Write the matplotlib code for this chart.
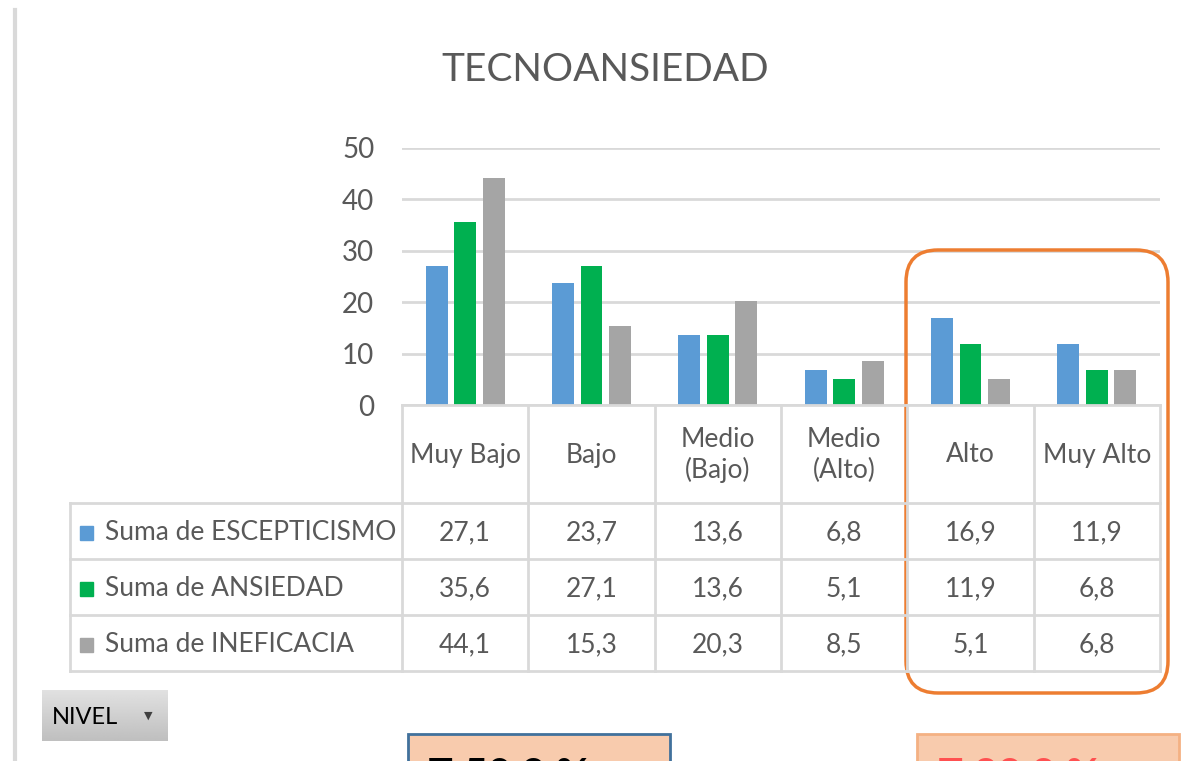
import numpy as np
import matplotlib
matplotlib.use("Agg")
import matplotlib.pyplot as plt
from matplotlib.patches import FancyBboxPatch, Rectangle

# data
categorias = ["Muy Bajo", "Bajo", "Medio\n(Bajo)", "Medio\n(Alto)", "Alto", "Muy Alto"]
series = ["Suma de ESCEPTICISMO", "Suma de ANSIEDAD", "Suma de INEFICACIA"]
escepticismo = [27.1, 23.7, 13.6, 6.8, 16.9, 11.9]
ansiedad = [35.6, 27.1, 13.6, 5.1, 11.9, 6.8]
ineficacia = [44.1, 15.3, 20.3, 8.5, 5.1, 6.8]
y_ticks = [0, 10, 20, 30, 40, 50]
titulo = "TECNOANSIEDAD"
boton = "NIVEL"
resumen_izq = "\u03A3 50,8 %"
resumen_der = "\u03A3 28,8 %"

valores = [escepticismo, ansiedad, ineficacia]
colores = ["#5B9BD5", "#00B050", "#A5A5A5"]
texto = "#595959"
borde = "#D9D9D9"

plt.rcParams["font.family"] = ["Lato", "DejaVu Sans"]

W, H = 1181, 761
fig = plt.figure(figsize=(W / 100, H / 100), dpi=100)

# bar chart area (pixel geometry of the plot region)
x0, x1, y_top, y_base = 402, 1160, 148, 405
ax = fig.add_axes([x0 / W, 1 - y_base / H, (x1 - x0) / W, (y_base - y_top) / H])
n = len(categorias)
x = np.arange(n)
bw, step = 0.174, 0.225
for i, (vals, col) in enumerate(zip(valores, colores)):
    ax.bar(x + (i - 1) * step, vals, width=bw, color=col, zorder=3)
ax.set_xlim(-0.5, n - 0.5)
ax.set_ylim(0, 50)
ax.set_yticks(y_ticks)
ax.set_yticklabels([str(t) for t in y_ticks])
ax.set_xticks([])
ax.yaxis.grid(True, color=borde, linewidth=2, zorder=0)
ax.tick_params(axis="y", length=0, pad=20, labelsize=20, labelcolor=texto)
for s in ax.spines.values():
    s.set_visible(False)
ax.patch.set_alpha(0)

# overlay in pixel coordinates for table and decorations
ov = fig.add_axes([0, 0, 1, 1], zorder=5)
ov.set_xlim(0, W)
ov.set_ylim(H, 0)
ov.axis("off")
ov.patch.set_alpha(0)

# left border line
ov.plot([15, 15], [10, H], color="#D9D9D9", lw=3)

ov.text(605, 70, titulo, ha="center", va="center", fontsize=28, color=texto)

# table
col_w = (x1 - x0) / n
rows_y = [405, 503, 559, 615, 671]
tbl_left = 70
lw_t = 2
for k in range(n + 1):
    ov.plot([x0 + k * col_w] * 2, [rows_y[0], rows_y[-1]], color=borde, lw=lw_t)
ov.plot([tbl_left, tbl_left], [rows_y[1], rows_y[-1]], color=borde, lw=lw_t)
ov.plot([x0, x1], [rows_y[0], rows_y[0]], color=borde, lw=lw_t)
for yy in rows_y[1:]:
    ov.plot([tbl_left, x1], [yy, yy], color=borde, lw=lw_t)

for k, cat in enumerate(categorias):
    cx = x0 + (k + 0.5) * col_w
    ov.text(cx, (rows_y[0] + rows_y[1]) / 2 + 1, cat, ha="center", va="center",
            fontsize=19, color=texto, linespacing=1.25)
    for r, vals in enumerate(valores):
        cy = (rows_y[r + 1] + rows_y[r + 2]) / 2 + 1.5
        ov.text(cx, cy, f"{vals[k]:.1f}".replace(".", ","), ha="center", va="center",
                fontsize=19, color=texto)

for r, (nombre, col) in enumerate(zip(series, colores)):
    cy = (rows_y[r + 1] + rows_y[r + 2]) / 2 + 1.5
    ov.add_patch(Rectangle((80, cy - 7), 13, 14, color=col))
    ov.text(105, cy, nombre, ha="left", va="center", fontsize=19, color=texto)

# highlight box around Alto / Muy Alto
ov.add_patch(FancyBboxPatch((906 + 32, 250 + 32), 262 - 64, 443 - 64,
                            boxstyle="round,pad=32", fill=False,
                            edgecolor="#ED7D31", lw=2.5))

# NIVEL button with gradient
grad = np.linspace(0.88, 0.75, 50).reshape(-1, 1)
ov.imshow(grad, extent=(42, 168, 741, 690), cmap="gray", vmin=0, vmax=1,
          aspect="auto", zorder=2)
ov.text(52, 718, boton, ha="left", va="center", fontsize=17, color="black", zorder=3)
ov.text(148, 716, "\u25BC", ha="center", va="center", fontsize=8, color="#404040",
        family="DejaVu Sans", zorder=3)
ov.set_xlim(0, W)
ov.set_ylim(H, 0)

# bottom summary boxes (cut off by the image edge, as in the original)
ov.add_patch(Rectangle((408, 734), 262, 40, facecolor="#F8CBAD",
                       edgecolor="#41719C", lw=2))
ov.add_patch(Rectangle((917, 734), 262, 40, facecolor="#F8CBAD",
                       edgecolor="#F4B183", lw=2))
ov.text(428, 758, resumen_izq, ha="left", va="top", fontsize=30, color="black",
        fontweight="bold")
ov.text(938, 758, resumen_der, ha="left", va="top", fontsize=30, color="#FF5050",
        fontweight="bold")

fig.savefig("out.png", dpi=100)
